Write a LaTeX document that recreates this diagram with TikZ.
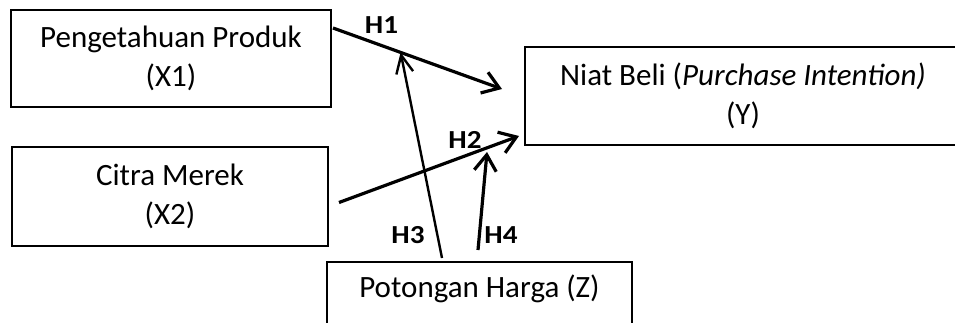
\documentclass[tikz,border=0pt]{standalone}
\usepackage{fontspec}
\usepackage{graphicx}
\setmainfont{Carlito}
\usetikzlibrary{arrows.meta,calc}
\begin{document}
\begin{tikzpicture}[x=1pt,y=-1pt,
  box/.style={draw, line width=2pt, align=center, inner sep=0pt,
    font=\fontsize{31}{39}\selectfont},
  hlab/.style={font=\fontsize{26}{29}\selectfont\bfseries, inner sep=0pt},
  arr/.style={-{Straight Barb[length=16pt,width=22pt]}, line width=3.2pt},
  arrthin/.style={-{Straight Barb[length=18pt,width=17pt]}, line width=2.4pt}]
\useasboundingbox (0,0) rectangle (955,322);
\begin{scope}
\clip (0,0) rectangle (955,322);
\node[box, minimum width=320pt, minimum height=97pt] (x1) at (171,58.5)
  {Pengetahuan Produk\\(X1)};
\node[box, minimum width=316pt, minimum height=99pt] (x2) at (170,196.5)
  {Citra Merek\\(X2)};
\node[box, minimum width=436pt, minimum height=98pt] (y) at (743,96)
  {Niat Beli (\textit{Purchase Intention)}\\(Y)};
\node[box, anchor=base, minimum width=305pt, text height=35pt, text depth=45pt] (z) at (479.5,297)
  {Potongan Harga (Z)};
\end{scope}
% connector end points
\coordinate (h1s) at ($(x1.north east)+(1,19)$);
\coordinate (h1e) at ($(y.west)+(-22,-7)$);
\coordinate (h2s) at ($(x2.east)+(10,6)$);
\coordinate (h2e) at ($(y.south west)+(-5,-10)$);
\path (h1s) -- (h1e) coordinate[pos=0.4] (h3e);
\coordinate (h3s) at ($(z.north west)+(116,-3)$);
\coordinate (h4s) at ($(z.north west)+(152,-11)$);
\coordinate (h4e) at ($(z.north west)+(161,-109)$);
\draw[arr] (h1s) -- (h1e);
\draw[arr] (h2s) -- (h2e);
\draw[arrthin] (h3s) -- (h3e);
\draw[arr] (h4s) -- (h4e);
% labels
\node[hlab] (l1) at (381.5,25) {\scalebox{1.12}[1]{H1}};
\node[hlab] (l2) at (465,140) {\scalebox{1.12}[1]{H2}};
\node[hlab] (l3) at (408,235.5) {\scalebox{1.12}[1]{H3}};
\node[hlab] (l4) at (501,235.5) {\scalebox{1.12}[1]{H4}};
\end{tikzpicture}
\end{document}
